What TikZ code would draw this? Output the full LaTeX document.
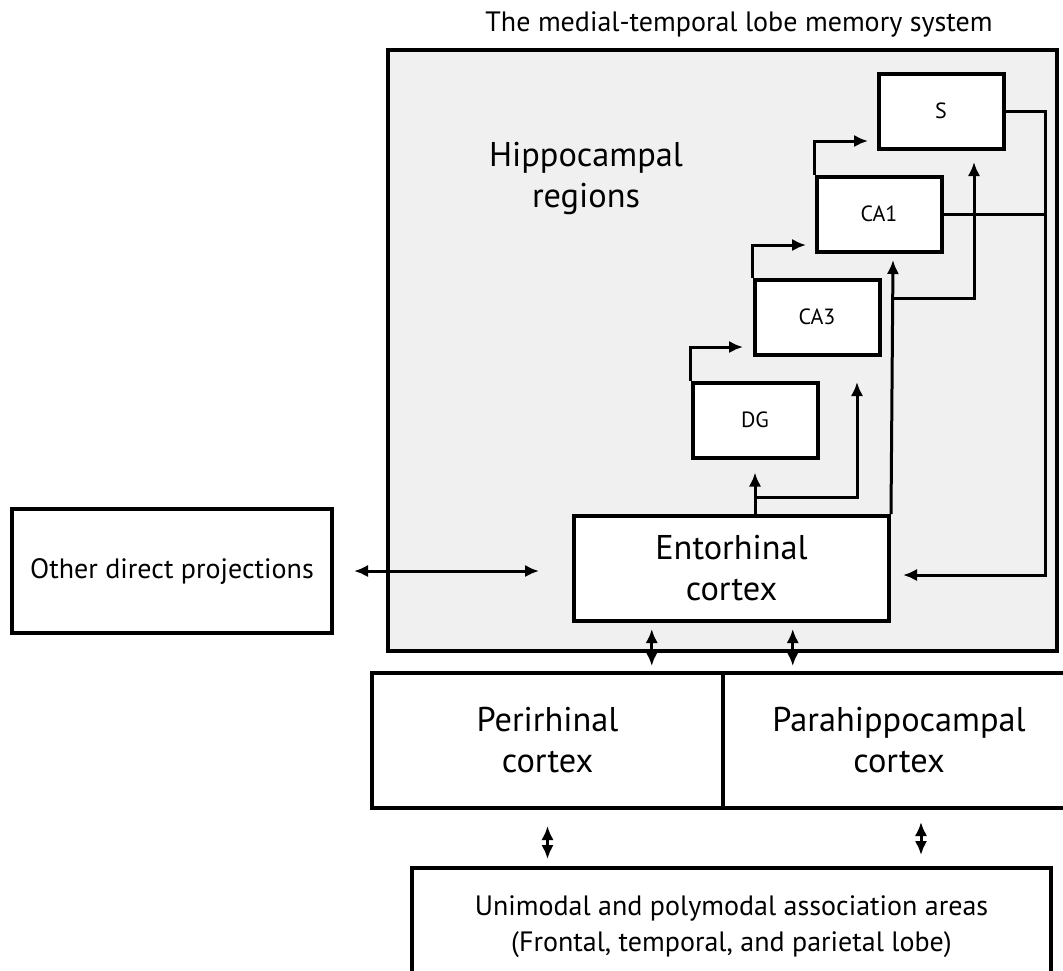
\documentclass[tikz,border=0pt]{standalone}
\usepackage{fontspec}
\setmainfont{PT Sans}
\usetikzlibrary{positioning}
\usetikzlibrary{calc}
\usetikzlibrary{arrows.meta}
\definecolor{mtlgray}{RGB}{240,240,240}

\begin{document}
\begin{tikzpicture}[x=0.3pt,y=-0.3pt,>={Latex[length=4.2pt,width=3.7pt]},
    box/.style={draw,line width=1.2pt,fill=white,inner sep=0pt,align=center},
    cell/.style={box,minimum width=37.5pt,minimum height=22.5pt,font=\fontsize{6.6}{8}\selectfont},
    big/.style={font=\fontsize{10.3}{12.3}\selectfont},
    small/.style={font=\fontsize{8.4}{10.8}\selectfont},
    link/.style={line width=0.9pt}]
  \useasboundingbox (0,0) rectangle (1063,970);

  \node[small] (title) at (739,24) {The medial-temporal lobe memory system};
  \node[draw,line width=1.1pt,fill=mtlgray,minimum width=200.7pt,minimum height=180.3pt] (mtl) at (722.5,350.5) {};
  \node[big,align=center] (hip) at (586,178) {Hippocampal\\regions};

  % hippocampal boxes
  \node[cell] (s) at (941,111) {S};
  \node[cell] (ca1) at (879,214) {CA1};
  \node[cell] (ca3) at (817,317) {CA3};
  \node[cell] (dg) at (755,420) {DG};
  \node[box,big,minimum width=94.5pt,minimum height=31.5pt] (ec) at (731.5,568.5) {Entorhinal\\cortex};

  % outside boxes
  \node[box,small,minimum width=96pt,minimum height=37.2pt] (other) at (172,571) {Other direct projections};
  \node[box,big,minimum width=105.3pt,minimum height=40.5pt] (peri) at (547.5,740.5) {Perirhinal\\cortex};
  \node[box,big,minimum width=105.6pt,minimum height=40.5pt] (para) at (899,740.5) {Parahippocampal\\cortex};
  \node[box,small,minimum width=191.7pt,minimum height=35.1pt] (uni) at (731.5,926.5) {Unimodal and polymodal association areas\\(Frontal, temporal, and parietal lobe)};

  \coordinate (toca3) at (743,347);
  \coordinate (toca1) at (806,245);
  \coordinate (tos) at (868,141);
  \coordinate (split) at (755,497);
  \coordinate (toca3b) at (857,382);
  \coordinate (toca1b) at (893,260);
  \coordinate (splitb) at (892,298);
  \coordinate (tosb) at (974,162);
  \coordinate (rail) at (1045,575);
  \coordinate (toec) at (903,575);

  % trisynaptic loop
  \draw[link,->] (dg.north west) |- (toca3);
  \draw[link,->] (ca3.north west) |- (toca1);
  \draw[link,->] (ca1.north west) |- (tos);
  \draw[link,->,shorten >=3.9pt] (dg.south |- ec.north) -- (dg.south);
  \draw[link,->] (dg.south |- split) -| (toca3b);
  \draw[link,->] (ec.north east) -- (toca1b);
  \draw[link,->] (splitb) -| (tosb);
  \draw[link,->] (s.east) -| (rail) -- (toec);
  \draw[link] (ca1.east) -- (ca1.east -| rail);

  % cortical links
  \draw[link,<->,shorten <=6pt,shorten >=9.9pt] (other.east) -- (other.east -| ec.west);
  \draw[link,<->,shorten <=1.8pt,shorten >=1.5pt] ($(ec.south west)!0.25!(ec.south east)$) coordinate (a1) -- (a1 |- peri.north);
  \draw[link,<->,shorten <=1.8pt,shorten >=1.5pt] ($(ec.south west)!0.692!(ec.south east)$) coordinate (a2) -- (a2 |- para.north);
  \draw[link,<->,shorten <=4.8pt,shorten >=2.1pt] (peri.south) -- (peri.south |- uni.north);
  \draw[link,<->,shorten <=3.6pt,shorten >=3.3pt] ($(para.south)+(22,0)$) coordinate (a3) -- (a3 |- uni.north);
\end{tikzpicture}
\end{document}
